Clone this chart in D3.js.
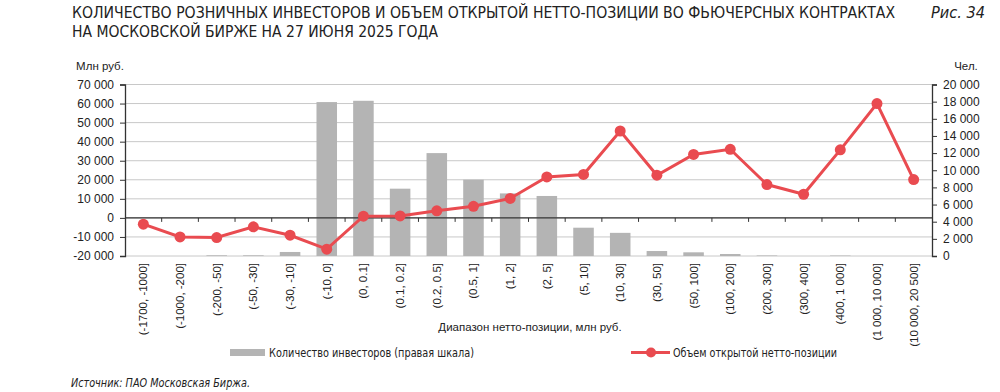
<!DOCTYPE html>
<html>
<head>
<meta charset="utf-8">
<script src="https://cdn.jsdelivr.net/npm/d3@7"></script>
<style>
  body { margin: 0; background: #fff; }
  svg { display: block; font-family: "Liberation Sans", Arial, sans-serif; }
  .title { font-family: "Liberation Sans Narrow", "DejaVu Sans Condensed", sans-serif; font-size: 15.6px; fill: #222; }
  .tick text { font-size: 12px; fill: #222; }
  .cat { font-size: 11.5px; fill: #222; }
</style>
</head>
<body>
<svg width="1000" height="392"></svg>
<script>
// Data
let categories = ["(-1700, -1000]", "(-1000, -200]", "(-200, -50]", "(-50, -30]", "(-30, -10]", "(-10, 0]",
    "(0, 0.1]", "(0.1, 0.2]", "(0.2, 0.5]", "(0.5, 1]", "(1, 2]", "(2, 5]", "(5, 10]", "(10, 30]",
    "(30, 50]", "(50, 100]", "(100, 200]", "(200, 300]", "(300, 400]", "(400, 1 000]",
    "(1 000, 10 000]", "(10 000, 20 500]"];
let investors = [0, 0, 80, 80, 470, 17950, 18100, 7850, 12000, 8900, 7300, 7000,
    3300, 2700, 580, 430, 230, 60, 0, 50, 0, 0];
let netPosition = [-3300, -10000, -10300, -4700, -9100, -16400, 900, 1000, 3700, 6100, 10200,
    21500, 22800, 45600, 22400, 33300, 36000, 17500, 12400, 35700, 60000, 20100];
let leftTicks = [-20000, -10000, 0, 10000, 20000, 30000, 40000, 50000, 60000, 70000];
let rightTicks = [0, 2000, 4000, 6000, 8000, 10000, 12000, 14000, 16000, 18000, 20000];

let svg = d3.select("svg");
let plotLeft = 125, plotRight = 932, plotTop = 84.5, plotBottom = 256;
let barColor = "#b4b4b4", lineColor = "#e94b50", axisColor = "#333";
let fmt = function(v) { return d3.format(",")(v).replace(/,/g, " ").replace("−", "-"); };

let x = d3.scaleBand().domain(categories).range([plotLeft, plotRight]);
let yL = d3.scaleLinear().domain([-20000, 70000]).range([plotBottom, plotTop]);
let yR = d3.scaleLinear().domain([0, 20000]).range([plotBottom, plotTop]);

// fit a text to a given width
function fit(sel, w) {
    return sel.attr("textLength", w).attr("lengthAdjust", "spacingAndGlyphs");
}

// Title
fit(svg.append("text").attr("class", "title").attr("x", 72).attr("y", 18)
    .text("КОЛИЧЕСТВО РОЗНИЧНЫХ ИНВЕСТОРОВ И ОБЪЕМ ОТКРЫТОЙ НЕТТО-ПОЗИЦИИ ВО ФЬЮЧЕРСНЫХ КОНТРАКТАХ"), 823);
fit(svg.append("text").attr("class", "title").attr("x", 72).attr("y", 37)
    .text("НА МОСКОВСКОЙ БИРЖЕ НА 27 ИЮНЯ 2025 ГОДА"), 366);
fit(svg.append("text").attr("class", "title").attr("x", 931).attr("y", 18)
    .style("font-style", "italic").text("Рис. 34"), 54);

// Gridlines
svg.append("g").selectAll("line").data(leftTicks).enter().append("line")
    .attr("x1", plotLeft).attr("x2", plotRight)
    .attr("y1", function(d) { return yL(d); }).attr("y2", function(d) { return yL(d); })
    .attr("stroke", "#c8c8c8").attr("stroke-width", 1);

// Bars
let bw = x.bandwidth() * 0.56;
svg.append("g").selectAll("rect").data(investors).enter().append("rect")
    .attr("x", function(d, i) { return x(categories[i]) + (x.bandwidth() - bw) / 2; })
    .attr("width", bw)
    .attr("y", function(d) { return yR(d); })
    .attr("height", function(d) { return plotBottom - yR(d); })
    .attr("fill", barColor);

// Zero line with category ticks
svg.append("line").attr("x1", plotLeft).attr("x2", plotRight)
    .attr("y1", yL(0)).attr("y2", yL(0)).attr("stroke", axisColor).attr("stroke-width", 1.3);
svg.append("g").selectAll("line").data(categories.slice(1)).enter().append("line")
    .attr("x1", function(d) { return x(d); }).attr("x2", function(d) { return x(d); })
    .attr("y1", yL(0)).attr("y2", yL(0) + 4).attr("stroke", axisColor);

// Axes
let leftAxis = svg.append("g").attr("transform", "translate(" + plotLeft + ",0)")
    .call(d3.axisLeft(yL).tickValues(leftTicks).tickFormat(fmt).tickSize(5).tickPadding(6));
let rightAxis = svg.append("g").attr("transform", "translate(" + plotRight + ",0)")
    .call(d3.axisRight(yR).tickValues(rightTicks).tickFormat(fmt).tickSize(5).tickPadding(6));
[leftAxis, rightAxis].forEach(function(a) {
    a.select(".domain").attr("stroke", axisColor).attr("stroke-width", 1.3);
    a.selectAll(".tick line").attr("stroke", axisColor);
});

svg.append("text").attr("x", 100).attr("y", 70).attr("text-anchor", "middle")
    .style("font-size", "11.5px").attr("fill", "#222").text("Млн руб.");
svg.append("text").attr("x", 966).attr("y", 70).attr("text-anchor", "middle")
    .style("font-size", "11.5px").attr("fill", "#222").text("Чел.");

// Line
let line = d3.line()
    .x(function(d, i) { return x(categories[i]) + x.bandwidth() / 2; })
    .y(function(d) { return yL(d); });
svg.append("path").datum(netPosition).attr("d", line)
    .attr("fill", "none").attr("stroke", lineColor).attr("stroke-width", 3);
svg.append("g").selectAll("circle").data(netPosition).enter().append("circle")
    .attr("cx", function(d, i) { return x(categories[i]) + x.bandwidth() / 2; })
    .attr("cy", function(d) { return yL(d); })
    .attr("r", 5.5).attr("fill", lineColor);

// Category labels
svg.append("g").selectAll("text").data(categories).enter().append("text")
    .attr("class", "cat")
    .attr("transform", function(d) { return "translate(" + (x(d) + x.bandwidth() / 2 + 4) + "," + (plotBottom + 7) + ") rotate(-90)"; })
    .attr("text-anchor", "end")
    .text(function(d) { return d; });

svg.append("text").attr("x", 530).attr("y", 331).attr("text-anchor", "middle")
    .style("font-size", "11.5px").attr("fill", "#222").text("Диапазон нетто-позиции, млн руб.");

// Legend
svg.append("rect").attr("x", 230).attr("y", 349).attr("width", 35).attr("height", 7).attr("fill", barColor);
fit(svg.append("text").attr("x", 269).attr("y", 357).attr("class", "title").style("font-size", "12px")
    .text("Количество инвесторов (правая шкала)"), 205);
svg.append("line").attr("x1", 631).attr("x2", 670).attr("y1", 352.5).attr("y2", 352.5)
    .attr("stroke", lineColor).attr("stroke-width", 3);
svg.append("circle").attr("cx", 651).attr("cy", 352.5).attr("r", 5).attr("fill", lineColor);
fit(svg.append("text").attr("x", 673).attr("y", 357).attr("class", "title").style("font-size", "12px")
    .text("Объем открытой нетто-позиции"), 164);

// Source
fit(svg.append("text").attr("x", 71).attr("y", 387).attr("class", "title")
    .style("font-size", "11.5px").style("font-style", "italic")
    .text("Источник: ПАО Московская Биржа."), 179);
</script>
</body>
</html>
